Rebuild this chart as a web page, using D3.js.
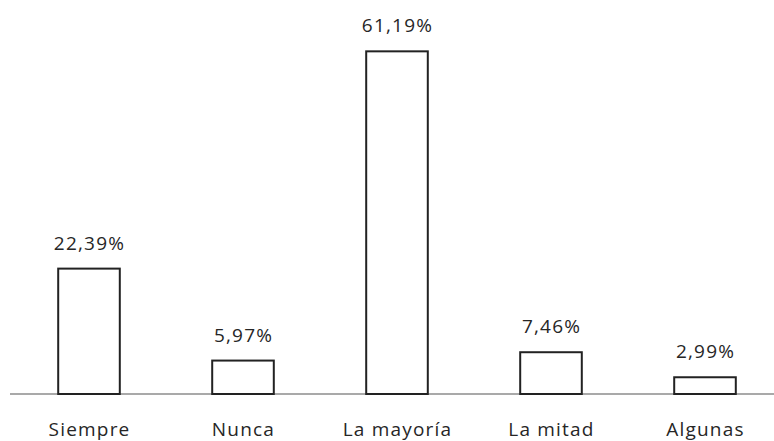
<!DOCTYPE html>
<html><head><meta charset="utf-8">
<script src="https://cdn.jsdelivr.net/npm/d3@7"></script>
<style>body{margin:0;background:#fff;}</style>
</head><body>
<svg id="chart" width="774" height="441"></svg>
<script>
const categories = ["Siempre", "Nunca", "La mayoría", "La mitad", "Algunas"];
const values = [22.39, 5.97, 61.19, 7.46, 2.99];
const valueLabels = ["22,39%", "5,97%", "61,19%", "7,46%", "2,99%"];

const svg = d3.select("#chart");
const baseY = 394;
const x = d3.scaleBand().domain(categories).range([12, 782]).paddingInner(0.6).paddingOuter(0.3);
const y = d3.scaleLinear().domain([0, 70]).range([baseY, 2]);

svg.append("line").attr("x1", 10).attr("x2", 774).attr("y1", baseY).attr("y2", baseY)
  .attr("stroke", "#8c8c8c").attr("stroke-width", 1.5);

svg.selectAll("rect.bar").data(values).enter().append("rect")
  .attr("class", "bar")
  .attr("x", (d, i) => x(categories[i]))
  .attr("y", d => y(d))
  .attr("width", x.bandwidth())
  .attr("height", d => baseY - y(d))
  .attr("fill", "#fff").attr("stroke", "#222").attr("stroke-width", 2);

svg.selectAll("text.val").data(values).enter().append("text")
  .attr("class", "val")
  .attr("x", (d, i) => x(categories[i]) + x.bandwidth() / 2 + 0.5)
  .attr("y", d => y(d) - 19)
  .attr("text-anchor", "middle")
  .attr("font-family", "Open Sans, sans-serif").attr("font-size", 19)
  .attr("font-weight", 500)
  .attr("letter-spacing", 1.2)
  .attr("fill", "#262626")
  .text((d, i) => valueLabels[i]);

svg.selectAll("text.cat").data(categories).enter().append("text")
  .attr("class", "cat")
  .attr("x", d => x(d) + x.bandwidth() / 2 + 0.5)
  .attr("y", 436)
  .attr("text-anchor", "middle")
  .attr("font-family", "Open Sans, sans-serif").attr("font-size", 19)
  .attr("font-weight", 500)
  .attr("letter-spacing", 1.2)
  .attr("fill", "#262626")
  .text(d => d);
</script>
</body></html>
